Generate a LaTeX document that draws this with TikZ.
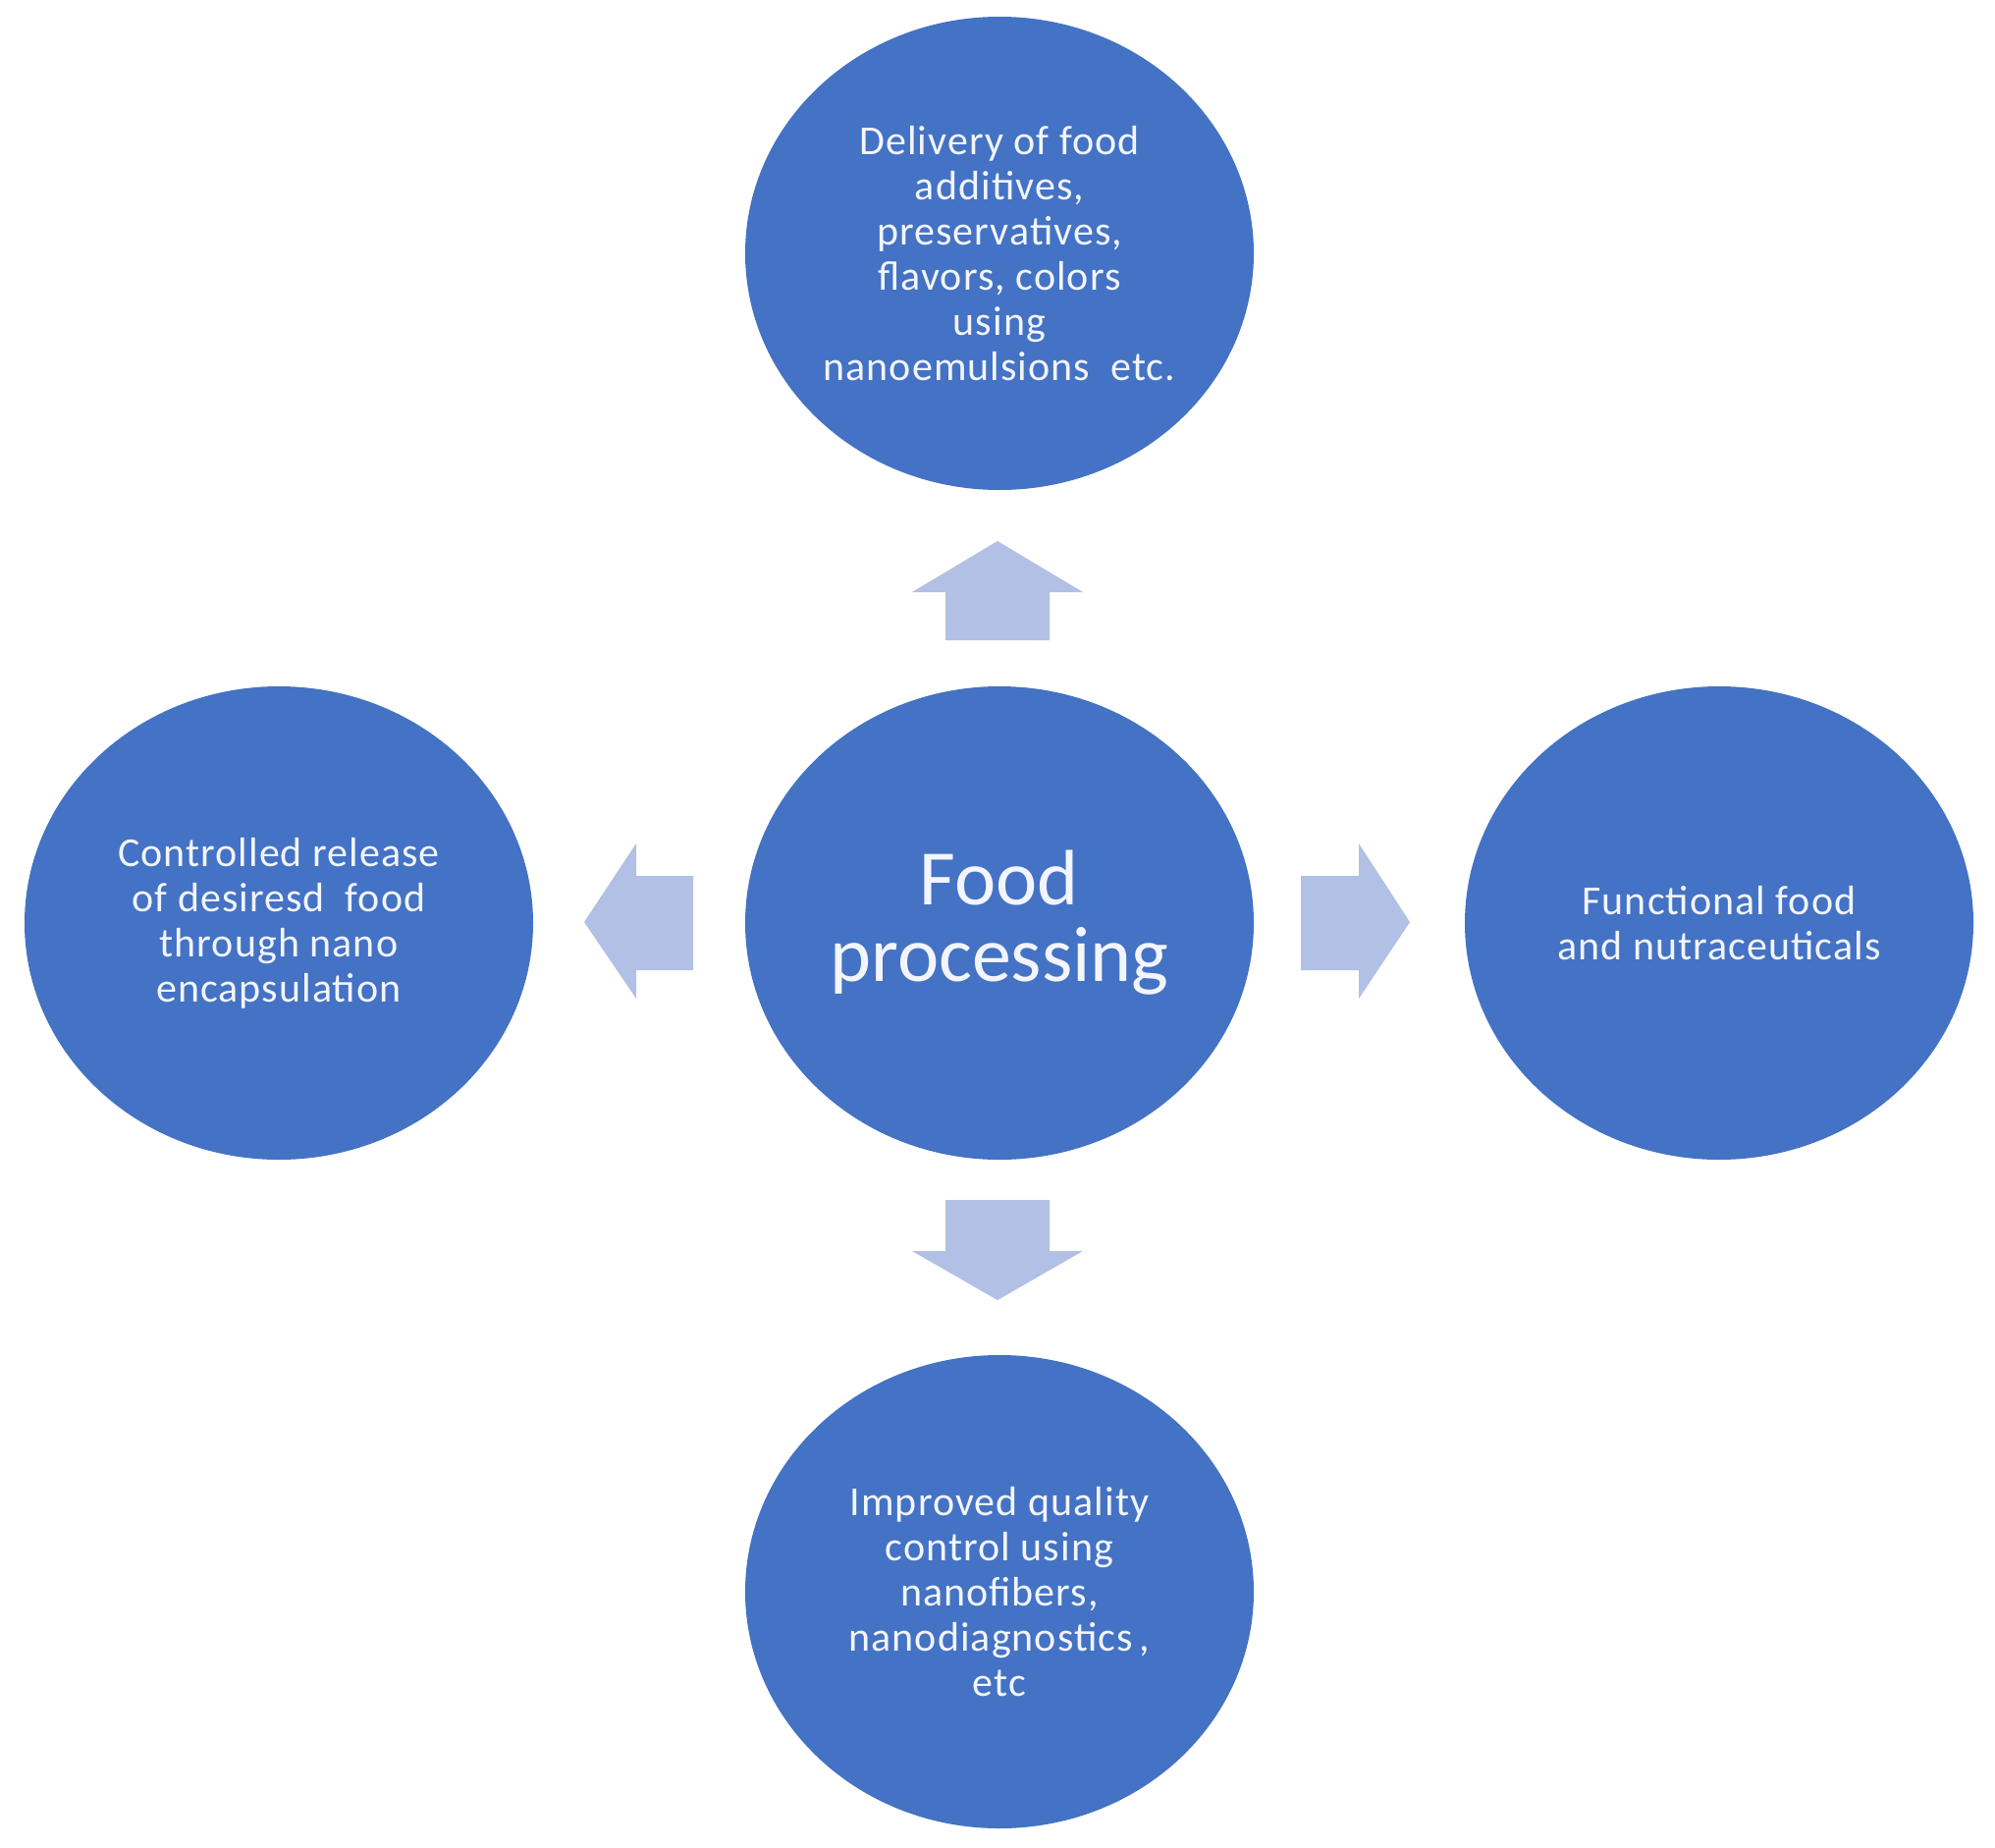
\documentclass[tikz,border=0pt]{standalone}
\usepackage{fontspec}
\setmainfont{Carlito}
\newfontfamily\smallfam[LetterSpace=2.5]{Carlito}
\usetikzlibrary{shapes.geometric}
\definecolor{cblue}{HTML}{4472C4}
\definecolor{carrow}{HTML}{B1C0E4}
\definecolor{ctext}{HTML}{F2F5FC}
\begin{document}
\begin{tikzpicture}[x=1pt,y=-1pt,
  bubble/.style={ellipse, fill=cblue, draw=none, minimum width=518pt, minimum height=482pt,
    inner sep=0pt, align=center, text=ctext, font=\smallfam\fontsize{42}{46}\selectfont},
  bigtext/.style={font=\rmfamily\fontsize{80}{78}\selectfont},
  blockarrow/.style={fill=carrow, draw=none}]
\useasboundingbox (0,0) rectangle (2032,1882);
\fill[white] (0,0) rectangle (2032,1882);

\node[bubble] (top) at (1018,258) {Delivery of food\\additives,\\preservatives,\\flavors, colors\\using\\nanoemulsions\ \ etc.};
\node[bubble, bigtext] (center) at (1018,940) {Food\\processing};
\node[bubble] (left) at (284,940) {Controlled release\\of desiresd\ \ food\\through nano\\encapsulation};
\node[bubble] (right) at (1751,940) {Functional food\\and nutraceuticals};
\node[bubble] (bottom) at (1018,1621) {Improved quality\\control using\\nanofibers,\\nanodiagnostics\,,\\etc};

% block arrows
\fill[blockarrow] (963,652) -- (963,603) -- (929,603) -- (1016,551) -- (1103,603) -- (1069,603) -- (1069,652) -- cycle;
\fill[blockarrow] (963,1222) -- (1069,1222) -- (1069,1274) -- (1103,1274) -- (1016,1324) -- (929,1274) -- (963,1274) -- cycle;
\fill[blockarrow] (706,892) -- (648,892) -- (648,859) -- (595,939) -- (648,1017) -- (648,988) -- (706,988) -- cycle;
\fill[blockarrow] (1325,892) -- (1384,892) -- (1384,859) -- (1436,939) -- (1384,1017) -- (1384,988) -- (1325,988) -- cycle;
\end{tikzpicture}
\end{document}
